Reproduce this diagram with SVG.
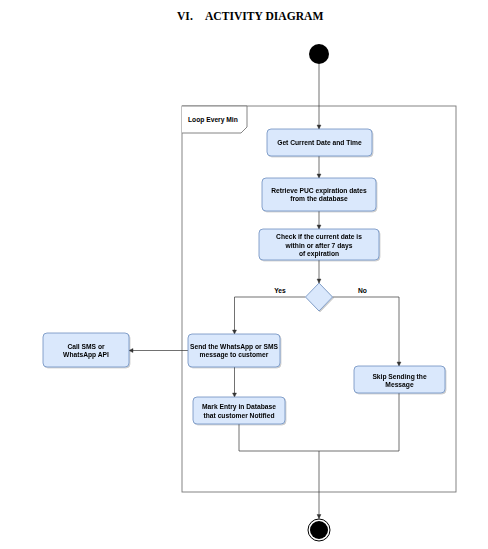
<svg xmlns="http://www.w3.org/2000/svg" width="488" height="549" viewBox="0 0 488 549">
<style>
.box{fill:#dae8fc;stroke:#6c8ebf;stroke-width:0.8}
.t{font-family:"Liberation Sans",Arial,sans-serif;font-size:6.7px;font-weight:bold;fill:#000;text-anchor:middle}
.c{fill:none;stroke:#333;stroke-width:0.7}
.title{font-family:"Liberation Serif","Times New Roman",serif;font-size:11.6px;font-weight:bold;fill:#000}
</style>
<defs>
<marker id="ah" markerWidth="6" markerHeight="6" refX="5" refY="3" orient="auto" markerUnits="userSpaceOnUse">
<path d="M1,1 L5,3 L1,5 Z" fill="#333" stroke="#333" stroke-width="0.4"/>
</marker>
<filter id="sh" x="-10%" y="-10%" width="130%" height="140%">
<feDropShadow dx="1" dy="1" stdDeviation="0.6" flood-color="#000" flood-opacity="0.2"/>
</filter>
</defs>
<rect width="488" height="549" fill="#fff"/>
<text class="title" x="177" y="20">VI.</text>
<text class="title" x="205" y="20">ACTIVITY DIAGRAM</text>

<g id="loop">
<rect x="182" y="106" width="274" height="386" fill="none" stroke="#777" stroke-width="0.9"/>
<path d="M182,106 L247,106 L247,127 L241,133 L182,133" fill="#fff" stroke="#777" stroke-width="0.9"/>
<text x="188" y="122" style="font-family:'Liberation Sans',Arial,sans-serif;font-size:6.7px;font-weight:bold">Loop Every Min</text>
</g>

<g id="connectors">
<line class="c" x1="319" y1="64" x2="319" y2="129" marker-end="url(#ah)"/>
<line class="c" x1="319" y1="156" x2="319" y2="178" marker-end="url(#ah)"/>
<line class="c" x1="319" y1="211" x2="319" y2="229" marker-end="url(#ah)"/>
<line class="c" x1="319" y1="260" x2="319" y2="283" marker-end="url(#ah)"/>
<polyline class="c" points="305.5,297 234.5,297 234.5,334" marker-end="url(#ah)"/>
<polyline class="c" points="332.5,297 399,297 399,366" marker-end="url(#ah)"/>
<line class="c" x1="188" y1="350.5" x2="129" y2="350.5" marker-end="url(#ah)"/>
<line class="c" x1="234.5" y1="367" x2="234.5" y2="397" marker-end="url(#ah)"/>
<polyline class="c" points="239,424 239,451 399,451 399,393"/>
<line class="c" x1="319" y1="451" x2="319" y2="518.5" marker-end="url(#ah)"/>
<text x="280" y="293" class="t">Yes</text>
<text x="362.5" y="293" class="t">No</text>
</g>

<g id="start">
<circle cx="319" cy="54" r="10" fill="#000"/>
</g>

<g id="get-date" filter="url(#sh)">
<rect class="box" x="267" y="129" width="105" height="27" rx="4"/>
<text class="t" x="319.5" y="144.6">Get Current Date and Time</text>
</g>

<g id="retrieve" filter="url(#sh)">
<rect class="box" x="262" y="178" width="114" height="33" rx="4"/>
<text class="t" x="319" y="193.2">Retrieve PUC expiration dates</text>
<text class="t" x="319" y="201.2">from the database</text>
</g>

<g id="check" filter="url(#sh)">
<rect class="box" x="259" y="229" width="120" height="31" rx="4"/>
<text class="t" x="319" y="239.2">Check if the current date is</text>
<text class="t" x="319" y="247.5">within or after 7 days</text>
<text class="t" x="319" y="255.7">of expiration</text>
</g>

<g id="decision" filter="url(#sh)">
<polygon class="box" points="319,283 332.5,297 319,311 305.5,297"/>
</g>

<g id="send" filter="url(#sh)">
<rect class="box" x="188" y="334" width="92" height="33" rx="4"/>
<text class="t" x="234" y="348.5">Send the WhatsApp or SMS</text>
<text class="t" x="234" y="357.2">message to customer</text>
</g>

<g id="call-api" filter="url(#sh)">
<rect class="box" x="43" y="333" width="86" height="34" rx="4"/>
<text class="t" x="86" y="348.5">Call SMS or</text>
<text class="t" x="86" y="357.2">WhatsApp API</text>
</g>

<g id="mark" filter="url(#sh)">
<rect class="box" x="193" y="397" width="92" height="27" rx="4"/>
<text class="t" x="239" y="409.2">Mark Entry in Database</text>
<text class="t" x="239" y="417.5">that customer Notified</text>
</g>

<g id="skip" filter="url(#sh)">
<rect class="box" x="354" y="366" width="91" height="27" rx="4"/>
<text class="t" x="399.5" y="378.7">Skip Sending the</text>
<text class="t" x="399.5" y="386.9">Message</text>
</g>

<g id="end">
<circle cx="319" cy="530" r="11" fill="#fff" stroke="#000" stroke-width="1"/>
<circle cx="319" cy="530" r="9" fill="#000"/>
</g>
</svg>
